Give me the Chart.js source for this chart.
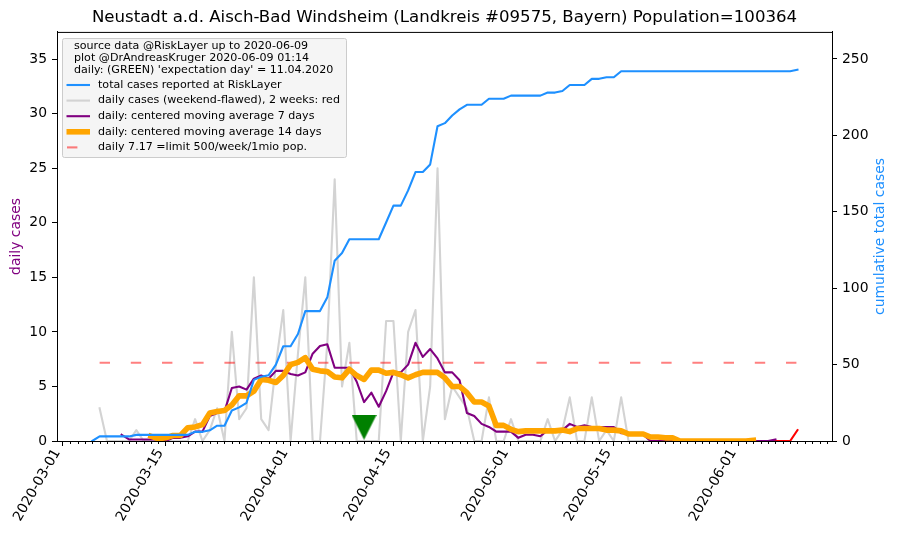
<!DOCTYPE html>
<html>
<head>
<meta charset="utf-8">
<title>Neustadt a.d. Aisch-Bad Windsheim</title>
<script src="https://cdn.jsdelivr.net/npm/chart.js@4/dist/chart.umd.min.js"></script>
<style>
  body { margin: 0; background: #fff; }
  canvas { display: block; }
</style>
</head>
<body>
<canvas id="myChart" width="897" height="536"></canvas>
<script>
/* DATA: x is days since 2020-03-01, each series has its first day */
const tickDays = [0, 14, 31, 45, 61, 75, 92];
const tickLabels = ['2020-03-01', '2020-03-15', '2020-04-01', '2020-04-15', '2020-05-01', '2020-05-15', '2020-06-01'];

const totalFirstDay = 4;
const totalCases = [0,
  3, 3, 3, 3, 3, 4, 4, 4, 4, 4, 4, 4, 4, 6, 6, 7,
  10, 10, 20, 22, 25, 40, 42, 43, 50, 62, 62, 70, 85, 85, 85, 94,
  118, 123, 132, 132, 132, 132, 132, 143, 154, 154, 164, 176, 176, 181, 206, 208,
  213, 217, 220, 220, 220, 224, 224, 224, 226, 226, 226, 226, 226, 228, 228, 229,
  233, 233, 233, 237, 237, 238, 238,
  242, 242, 242, 242, 242, 242, 242, 242, 242, 242, 242, 242,
  242, 242, 242, 242, 242, 242, 242, 242, 242, 242, 242, 242, 243];

const dailyFirstDay = 5;
const dailyCases = [3, 0, 0, 0, 0, 1, 0, 0, 0, 0, 0, 0, 0, 2, 0, 1, 3, 0,
  10, 2, 3, 15, 2, 1, 7, 12, 0, 8, 15, 0, 0, 9, 24, 5, 9, 0, 0, 0, 0,
  11, 11, 0, 10, 12, 0, 5, 25, 2, 5, 4, 3, 0, 0, 4, 0, 0, 2, 0, 0, 0, 0,
  2, 0, 1, 4, 0, 0, 4, 0, 1, 0, 4, 0, 0, 0, 0, 0, 0, 0, 0, 0];

const lastWeeksFirstDay = 86;
const lastWeeksCases = [0, 0, 0, 0, 0, 0, 0, 0, 0, 0, 0, 0, 0, 0, 1];

const avg7FirstDay = 8;
const avg7 = [0.57, 0.14, 0.14, 0.14, 0.14, 0.14, 0, 0.29, 0.29, 0.43, 0.86, 0.86,
  2.29, 2.57, 2.71, 4.86, 5, 4.71, 5.71, 6, 5.71, 6.43, 6.43, 6.14, 6, 6.29,
  8, 8.71, 8.86, 6.71, 6.71, 6.71, 5.43, 3.57, 4.43, 3.14, 4.57, 6.29, 6.29, 7,
  9, 7.71, 8.43, 7.57, 6.29, 6.29, 5.57, 2.57, 2.29, 1.57, 1.29, 0.86, 0.86, 0.86,
  0.29, 0.57, 0.57, 0.43, 1, 1, 1, 1.57, 1.29, 1.43, 1.29, 1.29, 1.29, 1.29,
  0.71, 0.71, 0.57, 0.57, 0, 0, 0, 0, 0, 0, 0, 0, 0, 0, 0, 0, 0, 0, 0, 0, 0, 0.14];

const avg14FirstDay = 12;
const avg14 = [0.43, 0.21, 0.29, 0.5, 0.5, 1.21, 1.29, 1.5, 2.57, 2.71, 2.79, 3.29,
  4.14, 4.14, 4.57, 5.64, 5.57, 5.36, 6, 7, 7.21, 7.64, 6.57, 6.43, 6.36, 5.86, 5.79,
  6.57, 6, 5.64, 6.5, 6.5, 6.21, 6.29, 6.07, 5.79, 6.07, 6.29, 6.29, 6.29, 5.79, 5, 5,
  4.43, 3.57, 3.57, 3.21, 1.43, 1.43, 1.07, 0.86, 0.93, 0.93, 0.93, 0.93, 0.93, 1, 0.86,
  1.14, 1.14, 1.14, 1.14, 1, 1, 0.93, 0.64, 0.64, 0.64, 0.36, 0.36, 0.29, 0.29,
  0, 0, 0, 0, 0, 0, 0, 0, 0, 0, 0.07];

const limitDays = [5, 100];
const limitValues = [7.17, 7.17];

const expectationDay = [41];
const expectationValue = [1.26];

const legendHeader = [
  'source data @RiskLayer up to 2020-06-09',
  'plot @DrAndreasKruger 2020-06-09 01:14',
  "daily: (GREEN) 'expectation day' = 11.04.2020"
];

/* from one start day to {x,y} */
let pts = (values, firstDay) => values.map((v, i) => ({ x: firstDay + i, y: v }));

const FONT = '"DejaVu Sans", sans-serif';

/* matplotlib like green triangle */
let triangle = document.createElement('canvas');
triangle.width = 25;
triangle.height = 25;
let tctx = triangle.getContext('2d');
tctx.fillStyle = '#008000';
tctx.moveTo(0, 0);
tctx.lineTo(25, 0);
tctx.lineTo(12.5, 25);
tctx.fill();

/* small ticks for every day, top of the frame, right axis title (chart.js turns it the other way) */
const framePlugin = {
  id: 'frame',
  afterDraw(chart) {
    const ctx = chart.ctx;
    const a = chart.chartArea;
    const xs = chart.scales.x;
    ctx.save();
    ctx.strokeStyle = '#000';
    ctx.lineWidth = 1;
    for (let d = 0; d <= 104; d++) {
      if (tickDays.includes(d)) continue;
      let px = Math.round(xs.getPixelForValue(d)) + 0.5;
      ctx.beginPath();
      ctx.moveTo(px, a.bottom);
      ctx.lineTo(px, a.bottom + 3);
      ctx.stroke();
    }
    ctx.beginPath();
    ctx.rect(a.left + 0.5, a.top + 0.5, a.right - a.left, a.bottom - a.top);
    ctx.stroke();
    ctx.translate(880, (a.top + a.bottom) / 2);
    ctx.rotate(-Math.PI / 2);
    ctx.font = '13.9px ' + FONT;
    ctx.fillStyle = '#1e90ff';
    ctx.textAlign = 'center';
    ctx.textBaseline = 'middle';
    ctx.fillText('cumulative total cases', 0, 0);
    ctx.restore();
  }
};

/* legend box, the header has 3 lines so the built in one does not fit */
const legendPlugin = {
  id: 'boxLegend',
  afterDraw(chart) {
    const ctx = chart.ctx;
    ctx.save();
    ctx.beginPath();
    ctx.roundRect(62.5, 38.5, 284, 119, 2);
    ctx.fillStyle = '#f5f5f5';
    ctx.fill();
    ctx.strokeStyle = '#cccccc';
    ctx.lineWidth = 1;
    ctx.stroke();
    ctx.font = '11.1px ' + FONT;
    ctx.textBaseline = 'middle';
    ctx.fillStyle = '#000';
    legendHeader.forEach((t, i) => ctx.fillText(t, 74, 46.5 + i * 11.8));
    const rows = chart.data.datasets.filter(d => d.legendRow !== undefined);
    rows.forEach(d => {
      let y = 85 + d.legendRow * 15.6;
      ctx.beginPath();
      ctx.strokeStyle = d.borderColor;
      ctx.lineWidth = d.borderWidth;
      ctx.setLineDash(d.borderDash || []);
      ctx.moveTo(d.borderDash ? 67 : 66.5, y);
      ctx.lineTo(90, y);
      ctx.stroke();
      ctx.setLineDash([]);
      ctx.fillStyle = '#000';
      ctx.fillText(d.label, 98, y);
    });
    ctx.restore();
  }
};

const ctx = document.getElementById('myChart');
const lineStyle = { fill: false, tension: 0, pointRadius: 0, borderJoinStyle: 'round', borderCapStyle: 'square', clip: 0, yAxisID: 'y' };

const dataset = {
  datasets: [
    { ...lineStyle, label: 'total cases reported at RiskLayer', legendRow: 0, data: pts(totalCases, totalFirstDay), borderColor: '#1e90ff', borderWidth: 2.1, yAxisID: 'y2', order: 0 },
    { label: 'expectation day', data: pts(expectationValue, expectationDay[0]), showLine: false, pointStyle: triangle, pointRadius: 12.5, clip: false, yAxisID: 'y', order: 1 },
    { ...lineStyle, label: 'daily: centered moving average 14 days', legendRow: 3, data: pts(avg14, avg14FirstDay), borderColor: '#ffa500', borderWidth: 5.6, order: 2 },
    { ...lineStyle, label: 'daily: centered moving average 7 days', legendRow: 2, data: pts(avg7, avg7FirstDay), borderColor: '#800080', borderWidth: 2.1, order: 3 },
    { ...lineStyle, label: 'last 2 weeks', data: pts(lastWeeksCases, lastWeeksFirstDay), borderColor: '#ff0000', borderWidth: 2.1, order: 4 },
    { ...lineStyle, label: 'daily 7.17 =limit 500/week/1mio pop.', legendRow: 4, data: limitDays.map((d, i) => ({ x: d, y: limitValues[i] })), borderColor: 'rgba(255,0,0,0.5)', borderWidth: 2.1, borderDash: [10.4, 20.8], borderCapStyle: 'butt', order: 5 },
    { ...lineStyle, label: 'daily cases (weekend-flawed), 2 weeks: red', legendRow: 1, data: pts(dailyCases, dailyFirstDay), borderColor: '#d3d3d3', borderWidth: 2.1, order: 6 }
  ]
};

const config = {
  type: 'line',
  data: dataset,
  plugins: [framePlugin, legendPlugin],
  options: {
    responsive: false,
    animation: false,
    devicePixelRatio: 1,
    layout: { padding: 0 },
    plugins: {
      legend: { display: false },
      tooltip: { enabled: false },
      title: {
        display: true,
        fullSize: false,
        text: 'Neustadt a.d. Aisch-Bad Windsheim (Landkreis #09575, Bayern) Population=100364',
        color: '#000',
        font: { family: FONT, size: 16.6, weight: 'normal' },
        padding: { top: 8, bottom: 4 }
      }
    },
    scales: {
      x: {
        type: 'linear',
        min: -0.8,
        max: 104.7,
        afterFit: (s) => { s.height = 95; },
        afterBuildTicks: (s) => { s.ticks = tickDays.map(d => ({ value: d })); },
        border: { color: '#000', width: 1 },
        grid: { drawOnChartArea: false, tickLength: 5, tickColor: '#000' },
        ticks: {
          autoSkip: false,
          includeBounds: false,
          minRotation: 60,
          maxRotation: 60,
          padding: 0,
          labelOffset: -5.5,
          color: '#000',
          font: { family: FONT, size: 13.9 },
          callback: (v) => tickLabels[tickDays.indexOf(v)]
        }
      },
      y: {
        position: 'left',
        min: 0,
        max: 37.5,
        afterFit: (s) => { s.width = 57; },
        border: { color: '#000', width: 1 },
        grid: { drawOnChartArea: false, tickLength: 5, tickColor: '#000' },
        ticks: { stepSize: 5, includeBounds: false, padding: 5, color: '#000', font: { family: FONT, size: 13.9 } },
        title: { display: true, text: 'daily cases', color: '#800080', font: { family: FONT, size: 13.9 }, padding: { top: 8, bottom: 0 } }
      },
      y2: {
        position: 'right',
        min: 0,
        max: 267.7,
        afterFit: (s) => { s.width = 65; },
        border: { color: '#000', width: 1 },
        grid: { drawOnChartArea: false, tickLength: 5, tickColor: '#000' },
        ticks: { stepSize: 50, includeBounds: false, padding: 5, color: '#000', font: { family: FONT, size: 13.9 } }
      }
    }
  }
};

const chart = new Chart(ctx, config);
</script>
</body>
</html>
